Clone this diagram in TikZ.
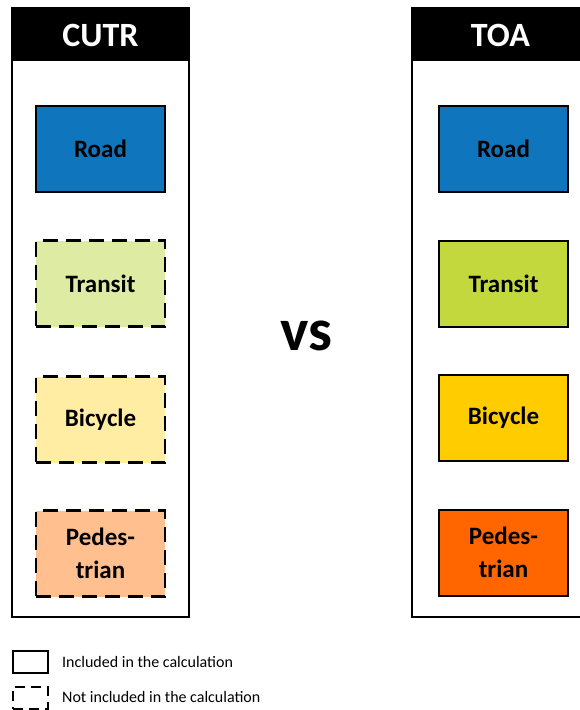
\documentclass[tikz,border=0pt]{standalone}
\usepackage{fontspec}
\setmainfont{Carlito}
\usetikzlibrary{positioning}
\usepackage{xcolor}
\definecolor{roadblue}{HTML}{0F75BD}
\definecolor{transitfull}{HTML}{C2D83C}
\definecolor{transitpale}{HTML}{DEEBA2}
\definecolor{bikefull}{HTML}{FFCC00}
\definecolor{bikepale}{HTML}{FFEDA3}
\definecolor{pedfull}{HTML}{FF6600}
\definecolor{pedpale}{HTML}{FFBF8E}

\begin{document}
\begin{tikzpicture}[x=1pt, y=-1pt,
    panel/.style={rectangle, draw, line width=1.5pt, minimum width=177pt, minimum height=609pt, inner sep=0pt},
    header/.style={rectangle, fill=black, text=white, inner sep=0pt, minimum width=177pt, minimum height=52pt, font=\bfseries\fontsize{34}{38}\selectfont},
    mode/.style={rectangle, draw, line width=2pt, minimum width=129pt, minimum height=86pt, inner sep=0pt, align=center, font=\bfseries\fontsize{25}{33}\selectfont},
    excluded/.style={line width=2.4pt, dash pattern=on 15pt off 8pt},
    keybox/.style={rectangle, draw, line width=1.5pt, minimum width=35pt, minimum height=22pt, inner sep=0pt},
    keytext/.style={anchor=west, inner sep=0pt, font=\fontsize{16}{19}\selectfont},
]
\useasboundingbox (0,0) rectangle (580,710);
\clip (0,0) rectangle (580,710);

% CUTR
\node[panel] (cutr) at (100.5, 312.5) {};
\node[header] (cutrhead) at (100.5, 35) {CUTR};
\node[mode, fill=roadblue] (croad) at (100.5, 149) {Road};
\node[mode, excluded, fill=transitpale] (ctransit) at (100.5, 283.5) {Transit};
\node[mode, excluded, fill=bikepale] (cbike) at (100.5, 419.5) {Bicycle};
\node[mode, excluded, fill=pedpale] (cped) at (100.5, 553.5) {Pedes-\\trian};

% TOA
\node[panel] (toa) at (500.5, 312.5) {};
\node[header] (toahead) at (500.5, 35) {TOA};
\node[mode, fill=roadblue] (troad) at (503.5, 149) {Road};
\node[mode, fill=transitfull] (ttransit) at (503.5, 283.5) {Transit};
\node[mode, fill=bikefull] (tbike) at (503.5, 418) {Bicycle};
\node[mode, fill=pedfull] (tped) at (503.5, 552.5) {Pedes-\\trian};

\node[font=\bfseries\fontsize{60}{64}\selectfont] (vs) at (306.5, 336) {vs};

% legend
\node[keybox] (keyin) at (30.5, 662) {};
\node[keytext] (keyintext) at (62, 662) {Included in the calculation};
\node[keybox, excluded, line width=1.5pt, dash pattern=on 10pt off 6pt] (keyout) at (30.5, 698) {};
\node[keytext] (keyouttext) at (62, 697) {Not included in the calculation};

\end{tikzpicture}
\end{document}
